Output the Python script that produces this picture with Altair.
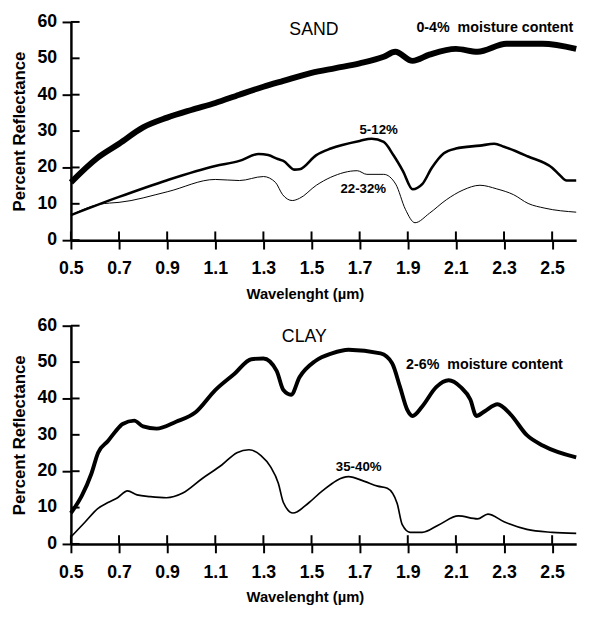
import altair as alt
import pandas as pd

FONT = "Liberation Sans"

# ---------------- data ----------------
x_ticks = [0.5, 0.7, 0.9, 1.1, 1.3, 1.5, 1.7, 1.9, 2.1, 2.3, 2.5]
y_ticks = [0, 10, 20, 30, 40, 50, 60]

sand_dry_wl = [0.5, 0.61, 0.7, 0.8, 0.9, 1.0, 1.1, 1.2, 1.3, 1.383, 1.5, 1.6, 1.7, 1.8,
               1.848, 1.92, 1.99, 2.1, 2.19, 2.31, 2.46, 2.6]
sand_dry_r = [15.9, 22.6, 26.5, 31.0, 33.7, 35.8, 37.7, 40.0, 42.2, 43.8, 46.0, 47.3, 48.6, 50.4,
              51.8, 49.3, 51.0, 52.6, 51.8, 54.0, 54.0, 52.6]

sand_mid_wl = [0.5, 0.7, 0.9, 1.1, 1.2, 1.28, 1.32, 1.36, 1.383, 1.43, 1.45, 1.52, 1.58, 1.7,
               1.75, 1.8, 1.84, 1.88, 1.92, 1.96, 2.0, 2.05, 2.1, 2.2, 2.26, 2.3, 2.4, 2.5,
               2.53, 2.56, 2.6]
sand_mid_r = [6.9, 11.9, 16.5, 20.4, 21.8, 23.7, 23.4, 22.3, 21.8, 19.4, 19.5, 23.4, 25.2, 27.3,
              27.9, 27.0, 23.4, 19.0, 14.0, 15.4, 19.9, 23.9, 25.2, 26.0, 26.5, 25.7, 23.0, 19.9,
              18.0, 16.4, 16.4]

sand_wet_wl = [0.5, 0.62, 0.66, 0.7, 0.9, 1.1, 1.2, 1.3, 1.35, 1.38, 1.42, 1.45, 1.52, 1.58,
               1.69, 1.73, 1.8, 1.85, 1.89, 1.93, 1.99, 2.06, 2.13, 2.2, 2.27, 2.34, 2.4, 2.47, 2.6]
sand_wet_r = [6.9, 9.9, 10.2, 10.4, 13.3, 16.7, 16.4, 17.5, 15.9, 12.5, 10.9, 11.5, 15.1, 17.3,
              19.1, 18.1, 18.1, 15.4, 8.5, 4.8, 7.4, 11.1, 13.8, 15.1, 14.1, 12.5, 10.1, 8.8, 7.7]

clay_dry_wl = [0.5, 0.545, 0.585, 0.613, 0.654, 0.686, 0.715, 0.763, 0.8, 0.856, 0.937, 1.018,
               1.1, 1.18, 1.25, 1.3, 1.355, 1.383, 1.415, 1.45, 1.516, 1.585, 1.654, 1.787,
               1.835, 1.868, 1.897, 1.92, 1.96, 2.018, 2.07, 2.12, 2.16, 2.185, 2.22, 2.273,
               2.326, 2.395, 2.463, 2.6]
clay_dry_r = [8.5, 13.2, 19.3, 25.1, 28.3, 31.0, 33.0, 33.9, 32.3, 31.7, 33.6, 36.2, 42.3, 46.8,
              50.8, 51.0, 47.6, 42.3, 41.0, 45.8, 50.3, 52.4, 53.4, 52.4, 49.7, 43.1, 37.0, 35.2,
              37.8, 43.1, 45.0, 43.1, 39.7, 35.2, 36.5, 38.4, 35.7, 29.9, 27.0, 23.8]

clay_wet_wl = [0.5, 0.56, 0.613, 0.654, 0.694, 0.735, 0.775, 0.83, 0.897, 0.965, 1.046, 1.127,
               1.19, 1.24, 1.29, 1.33, 1.362, 1.383, 1.423, 1.49, 1.545, 1.654, 1.72, 1.775,
               1.815, 1.856, 1.877, 1.91, 1.96, 2.03, 2.11, 2.19, 2.233, 2.3, 2.395, 2.5, 2.6]
clay_wet_r = [1.9, 6.1, 9.8, 11.4, 12.7, 14.6, 13.5, 13.0, 12.7, 14.0, 18.0, 21.7, 25.1, 25.9,
              24.3, 21.2, 16.7, 11.4, 8.5, 11.4, 14.6, 18.5, 17.2, 15.9, 15.3, 11.1, 5.3, 3.2,
              3.2, 5.3, 7.7, 6.9, 8.2, 6.1, 4.0, 3.2, 2.9]

W, H = 514, 222

xs = alt.Scale(domain=[0.5, 2.6], nice=False, zero=False)
ys = alt.Scale(domain=[0, 60], nice=False, zero=False)

x_axis = alt.Axis(values=x_ticks, format=".1f", title="Wavelenght (µm)", grid=False,
                  ticks=True, tickSize=9, tickWidth=2, tickColor="black",
                  labelPadding=11, labelFontSize=18,
                  labelFontWeight="bold", titleFontSize=15, titleFontWeight="bold",
                  titlePadding=9, titleX=238, domainWidth=2.5, domainColor="black",
                  labelColor="black", titleColor="black", labelFont=FONT, titleFont=FONT,
                  labelFlush=False, labelOverlap=False)
y_axis = alt.Axis(values=y_ticks, title="Percent Reflectance", grid=False, labels=False,
                  ticks=True, tickSize=9, tickWidth=2, tickColor="black",
                  titleFontSize=17, titleFontWeight="bold",
                  titlePadding=33, domainWidth=2.5, domainColor="black",
                  titleColor="black", titleFont=FONT)

X = alt.X("wl:Q", scale=xs, axis=x_axis)
Y = alt.Y("r:Q", scale=ys, axis=y_axis)


def line(wl, r, width):
    df = pd.DataFrame({"wl": wl, "r": r})
    return alt.Chart(df).mark_line(color="black", strokeWidth=width,
                                   interpolate="monotone").encode(x=X, y=Y)


def xtick_layer():
    # inner half of the crossing ticks (outer half comes from the axis)
    return alt.Chart(pd.DataFrame({"wl": x_ticks})).mark_rule(
        strokeWidth=2, color="black").encode(x=X, y=alt.datum(0), y2=alt.datum(2.4))


def ytick_layer():
    return alt.Chart(pd.DataFrame({"r": y_ticks})).mark_rule(
        strokeWidth=2, color="black").encode(y=Y, x=alt.datum(0.5), x2=alt.datum(0.536))


def ylabel_layer():
    return alt.Chart(pd.DataFrame({"r": y_ticks})).mark_text(
        font=FONT, fontSize=18, fontWeight="bold", color="black", align="right",
        baseline="middle", dx=-14).encode(y=Y, x=alt.datum(0.5),
                                           text=alt.Text("r:Q", format="d"))


def label(text, wx, wy, size, weight="bold", align="left"):
    return alt.Chart(pd.DataFrame({"t": [text]})).mark_text(
        font=FONT, fontSize=size, fontWeight=weight, color="black", align=align,
        baseline="middle").encode(x=alt.datum(wx), y=alt.datum(wy), text="t:N")


NB = "\u00a0"

sand = alt.layer(
    line(sand_dry_wl, sand_dry_r, 6),
    line(sand_mid_wl, sand_mid_r, 2.6),
    line(sand_wet_wl, sand_wet_r, 1),
    xtick_layer(),
    ytick_layer(),
    ylabel_layer(),
    label("SAND", 1.51, 57.9, 18, "normal", "center"),
    label("0-4%" + NB + " moisture content", 1.936, 58.4, 14.5),
    label("5-12%", 1.779, 30.3, 13.5, "bold", "center"),
    label("22-32%", 1.715, 14.1, 13.5, "bold", "center"),
).properties(width=W, height=H)

clay = alt.layer(
    line(clay_dry_wl, clay_dry_r, 4),
    line(clay_wet_wl, clay_wet_r, 1.7),
    xtick_layer(),
    ytick_layer(),
    ylabel_layer(),
    label("CLAY", 1.47, 56.9, 18, "normal", "center"),
    label("2-6%" + NB + " moisture content", 1.893, 49.2, 14.5),
    label("35-40%", 1.696, 21.2, 13.5, "bold", "center"),
).properties(width=W, height=H)

chart = alt.vconcat(sand, clay, spacing=16).configure_view(stroke=None).properties(
    background="white", padding={"left": 3, "top": 0, "right": 0, "bottom": 0})

chart.save("out.html", embed_options={"renderer": "svg", "actions": False})
